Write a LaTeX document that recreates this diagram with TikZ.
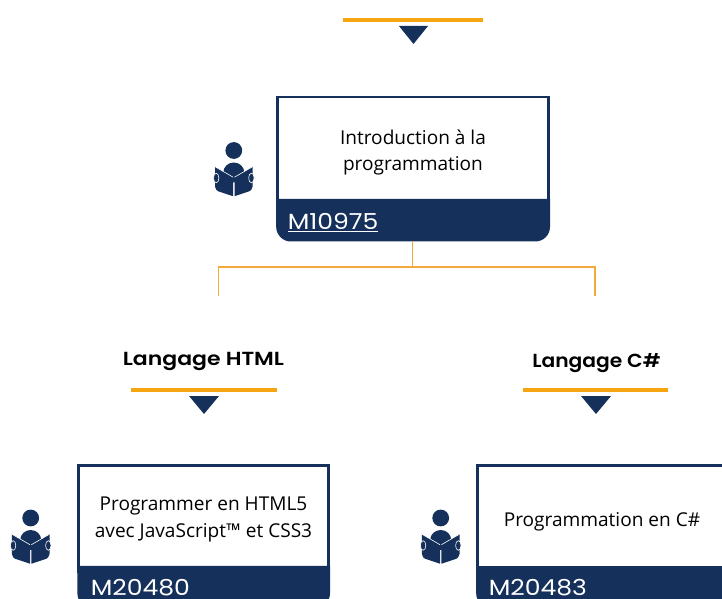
\documentclass[tikz,border=0pt]{standalone}
\usepackage{fontspec}
\setmainfont{Open Sans}
\newfontfamily\codefont[FakeStretch=1.14]{Poppins}
\newfontfamily\titlefont[FakeStretch=1.16]{Poppins SemiBold}
\newfontfamily\titlefontb[FakeStretch=1.07]{Poppins SemiBold}
\definecolor{navy}{HTML}{15305A}
\definecolor{amber}{HTML}{F5A50F}
\definecolor{twig}{HTML}{F6A93B}
\tikzset{
  x=0.75pt,y=-0.75pt,
  boxframe/.style={draw=navy,line width=2pt,fill=white},
  band/.style={fill=navy},
  rule/.style={draw=amber,line width=2.4pt},
  branch/.style={draw=twig,line width=1.05pt},
  pointer/.style={fill=navy},
  coursetext/.style={inner sep=0pt,align=center,text=black,font=\fontsize{14.3}{19.6}\selectfont},
  codetext/.style={inner sep=0pt,anchor=base west,text=white,font=\codefont\fontsize{16.5}{20}\selectfont},
  titletext/.style={inner sep=0pt,text=black,font=\titlefont\fontsize{14.2}{17}\selectfont},
  titletextb/.style={inner sep=0pt,text=black,font=\titlefontb\fontsize{14.2}{17}\selectfont},
  reader/.pic={
    \fill[navy] (0,0) circle (8.4);
    \fill[navy] (0,22) ellipse (10.5 and 10);
    \fill[navy] (-0.7,26.7) -- (-18.8,16.2) -- (-18.8,36) .. controls (-18.2,39) and (-17,40.2) .. (-15.5,40.8) -- (-0.7,45.7) -- cycle;
    \fill[navy] (0.7,26.7) -- (18.8,16.2) -- (18.8,36) .. controls (18.2,39) and (17,40.2) .. (15.5,40.8) -- (0.7,45.7) -- cycle;
    \draw[white,line width=0.45pt] (-0.7,26.7) -- (-18.8,16.2);
    \draw[white,line width=0.45pt] (0.7,26.7) -- (18.8,16.2);
    \fill[navy,draw=white,line width=0.45pt] (-17.6,27.5) ellipse (2.7 and 4.8);
    \fill[navy,draw=white,line width=0.45pt] (17.6,27.5) ellipse (2.7 and 4.8);
  }
}
\begin{document}
\begin{tikzpicture}
\useasboundingbox (0,0) rectangle (722,599);
\clip (0,0) rectangle (722,599);
% top marker
\draw[rule] (343,20) -- (483,20);
\fill[pointer] (399,26) -- (428,26) -- (413.5,44) -- cycle;
% course 1
\draw[boxframe] (277.5,97) rectangle (548.7,205);
\fill[band] (276.2,199) -- (550,199) -- (550,205) [rounded corners=11pt] -- (550,241.5) -- (276.2,241.5) -- (276.2,205) [sharp corners] -- (276.2,199) -- cycle;
\node[coursetext] (c1) at (413,152.5) {Introduction à la\\programmation};
\node[codetext] (k1) at (287.5,229.5) {\underline{M10975}};
\coordinate (b1) at (412.5,241);
\coordinate (j) at (412.5,267);
\coordinate (jl) at (218.5,267);
\coordinate (jr) at (595,267);
\coordinate (el) at (218.5,296);
\coordinate (er) at (595,296);
\draw[branch] (b1) -- (j);
\draw[branch] (el) -- (jl) -- (jr) -- (er);
\pic at (233.8,150.5) {reader};
% titles
\node[titletext] (t2) at (203.5,361) {Langage HTML};
\node[titletextb] (t3) at (596.5,363) {Langage C\#};
\draw[rule] (131,390) -- (277,390);
\draw[rule] (523,390) -- (668,390);
\fill[pointer] (189,396) -- (219,396) -- (204,414) -- cycle;
\fill[pointer] (581,396) -- (611,396) -- (596,414) -- cycle;
% course 2
\draw[boxframe] (78.7,465.5) rectangle (328.7,572);
\fill[band] (77.4,565.8) -- (330,565.8) -- (330,572) [rounded corners=11pt] -- (330,608) -- (77.4,608) -- (77.4,572) [sharp corners] -- (77.4,565.8) -- cycle;
\node[coursetext] (c2) at (203.5,519.5) {Programmer en HTML5\\avec JavaScript™ et CSS3};
\node[codetext] (k2) at (90.5,595) {M20480};
\pic at (30.7,518) {reader};
% course 3
\draw[boxframe] (477.5,465.5) rectangle (740,572);
\fill[band] (476.2,566) -- (740,566) -- (740,572) -- (740,608) [rounded corners=11pt] -- (476.2,608) -- (476.2,572) [sharp corners] -- (476.2,566) -- cycle;
\node[coursetext] (c3) at (602,521.5) {Programmation en C\#};
\node[codetext] (k3) at (488.5,595) {M20483};
\pic at (440.7,518) {reader};
\end{tikzpicture}
\end{document}
